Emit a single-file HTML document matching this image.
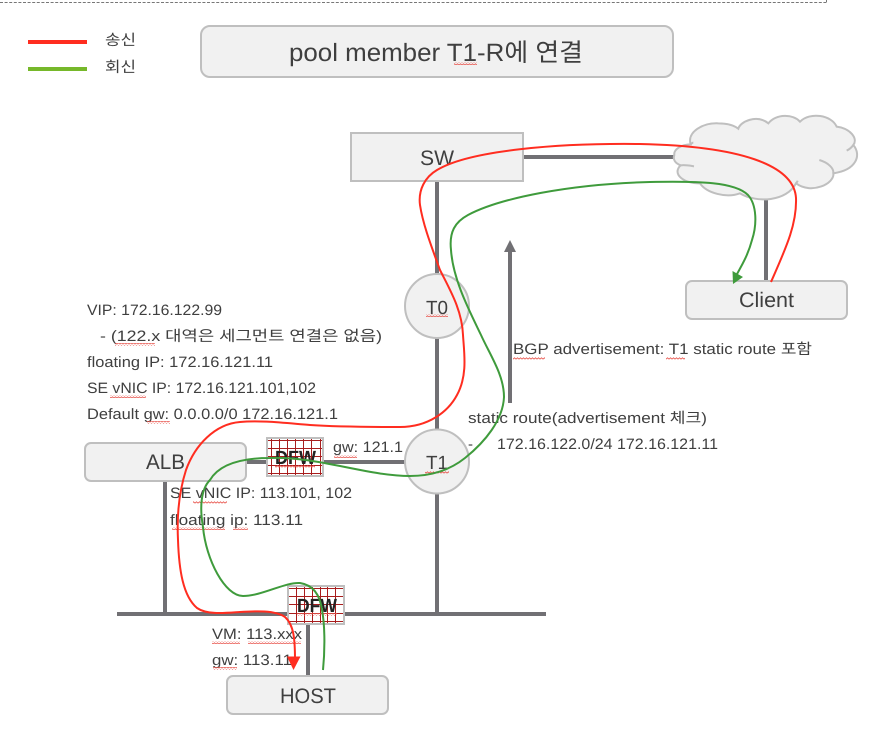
<!DOCTYPE html>
<html><head><meta charset="utf-8"><style>
html,body{margin:0;padding:0;background:#fff}
svg{display:block}
text{font-family:"Liberation Sans","Noto Sans CJK KR",sans-serif;fill:#3f3f3f;text-rendering:geometricPrecision}
.s{font-size:15px}
.b{font-size:21px}
.box{fill:#f1f1f1;stroke:#bfbfbf;stroke-width:2}
.ln{stroke:#717074;stroke-width:4;fill:none}
.g{stroke:#a81c1c;stroke-width:1;fill:none}
.w{fill:url(#sq)}
</style></head><body>
<svg width="879" height="738" viewBox="0 0 879 738" xmlns="http://www.w3.org/2000/svg">
<defs>
<pattern id="sq" width="3" height="3" patternUnits="userSpaceOnUse"><path d="M0 2.2L1.5 .8L3 2.2" fill="none" stroke="#e8524a" stroke-width=".8"/></pattern>
</defs>
<path d="M0 2.5H826" stroke="#777" stroke-width="1" stroke-dasharray="3 1.6"/>
<path d="M826.5 0V2.5" stroke="#777" stroke-width="1"/>

<rect x="28" y="40" width="59" height="4" fill="#ff2d20"/>
<rect x="28" y="67" width="59" height="4" fill="#76b82a"/>
<text class="s" x="105" y="45" textLength="31" lengthAdjust="spacingAndGlyphs">송신</text>
<text class="s" x="105" y="72" textLength="31" lengthAdjust="spacingAndGlyphs">회신</text>

<rect class="box" x="201" y="26" width="472" height="51" rx="9"/>
<text x="289" y="61" font-size="25" textLength="294" lengthAdjust="spacingAndGlyphs">pool member T1-R에 연결</text>
<rect class="w" x="454" y="62" width="23" height="3"/>

<!-- connectors -->
<path class="ln" d="M437 181V275M437 338V430M437 493V614M523 157H680M766 197V281M246 462H405M165 481V614M117 614H546M308 624V676"/>
<path class="ln" d="M510 403V250"/>
<path d="M510 240L516 252H504Z" fill="#717074"/>

<!-- cloud -->
<g transform="translate(440,100) scale(.33333)">
<path d="M703 165C700 148 725 133 752 133C740 95 790 68 835 70C860 70 882 76 895 86C900 65 950 42 985 70C1010 40 1060 42 1080 65C1110 35 1175 45 1190 80C1230 85 1255 115 1240 135C1265 165 1250 210 1180 220C1185 250 1115 285 1068 250C1040 305 950 310 900 280C860 295 800 280 780 250C730 250 695 222 722 196C705 190 698 178 703 165Z" fill="#f1f1f1" stroke="#bfbfbf" stroke-width="6"/>
<path d="M752 133C755 130 757 128 760 128M722 196C735 194 750 197 762 199M1138 180C1165 188 1182 205 1180 220M1240 135C1235 142 1228 148 1220 152M1068 250C1070 248 1072 245 1073 242" fill="none" stroke="#bfbfbf" stroke-width="6"/>
</g>

<rect class="box" x="351" y="133" width="172" height="48"/>
<text class="b" x="420" y="165" textLength="34" lengthAdjust="spacingAndGlyphs">SW</text>

<rect class="box" x="686" y="281" width="161" height="38" rx="6"/>
<text class="b" x="739" y="307" textLength="55" lengthAdjust="spacingAndGlyphs">Client</text>

<circle class="box" cx="437" cy="306" r="32"/>
<text x="426" y="314" font-size="19" textLength="22" lengthAdjust="spacingAndGlyphs">T0</text>
<rect class="w" x="426" y="314" width="22" height="3"/>

<circle class="box" cx="437" cy="461.5" r="32"/>
<text x="426" y="469" font-size="19" textLength="22" lengthAdjust="spacingAndGlyphs">T1</text>
<rect class="w" x="425" y="471" width="24" height="3"/>

<rect class="box" x="85" y="443" width="161" height="38" rx="6"/>
<text class="b" x="146" y="469" textLength="39" lengthAdjust="spacingAndGlyphs">ALB</text>

<rect class="box" x="227" y="676" width="161" height="38" rx="6"/>
<text class="b" x="280" y="703" textLength="56" lengthAdjust="spacingAndGlyphs">HOST</text>

<!-- DFW 1 -->
<rect x="267" y="438" width="56" height="38" fill="#fff" stroke="#bfbfbf" stroke-width="2"/>
<path class="g" d="M271.5 439V475M279.5 439V475M287.5 439V475M295.5 439V475M303.5 439V475M311.5 439V475M320.5 439V475M268 440.5H322M268 448.5H322M268 456.5H322M268 465.5H322M268 473.5H322"/>
<text x="275" y="464" font-size="19" style="fill:#222;font-weight:bold" textLength="41" lengthAdjust="spacingAndGlyphs">DFW</text>
<rect class="w" x="275" y="465" width="40" height="3"/>

<!-- DFW 2 -->
<rect x="288" y="586" width="56" height="38" fill="#fff" stroke="#bfbfbf" stroke-width="2"/>
<path class="g" d="M296.5 587V623M304.5 587V623M312.5 587V623M320.5 587V623M327.5 587V623M335.5 587V623M289 588.5H343M289 596.5H343M289 604.5H343M289 613.5H343M289 621.5H343"/>
<text x="297" y="612" font-size="19" style="fill:#222;font-weight:bold" textLength="40" lengthAdjust="spacingAndGlyphs">DFW</text>
<rect class="w" x="297" y="613" width="40" height="3"/>

<!-- labels -->
<g class="s">
<text x="87" y="315" class="s" textLength="135" lengthAdjust="spacingAndGlyphs">VIP: 172.16.122.99</text>
<text x="100" y="341" class="s" textLength="282" lengthAdjust="spacingAndGlyphs">- (122.x 대역은 세그먼트 연결은 없음)</text>
<text x="87" y="367" class="s" textLength="186" lengthAdjust="spacingAndGlyphs">floating IP: 172.16.121.11</text>
<text x="87" y="393" class="s" textLength="229" lengthAdjust="spacingAndGlyphs">SE vNIC IP: 172.16.121.101,102</text>
<text x="87" y="419" class="s" textLength="251" lengthAdjust="spacingAndGlyphs">Default gw: 0.0.0.0/0 172.16.121.1</text>
<text x="333" y="452" class="s" textLength="70" lengthAdjust="spacingAndGlyphs">gw: 121.1</text>
<text x="170" y="498" class="s" textLength="182" lengthAdjust="spacingAndGlyphs">SE vNIC IP: 113.101, 102</text>
<text x="170" y="525" class="s" textLength="133" lengthAdjust="spacingAndGlyphs">floating ip: 113.11</text>
<text x="212" y="639" class="s" textLength="90" lengthAdjust="spacingAndGlyphs">VM: 113.xxx</text>
<text x="212" y="665" class="s" textLength="80" lengthAdjust="spacingAndGlyphs">gw: 113.11</text>
<text x="513" y="354" class="s" textLength="299" lengthAdjust="spacingAndGlyphs">BGP advertisement: T1 static route 포함</text>
<text x="468" y="423" class="s" textLength="239" lengthAdjust="spacingAndGlyphs">static route(advertisement 체크)</text>
<text x="468" y="449" class="s">-</text>
<text x="497" y="449" class="s" textLength="221" lengthAdjust="spacingAndGlyphs">172.16.122.0/24 172.16.121.11</text>
</g>
<g>
<rect class="w" x="115" y="343" width="40" height="3"/>
<rect class="w" x="110" y="395" width="36" height="3"/>
<rect class="w" x="147" y="421" width="23" height="3"/>
<rect class="w" x="334" y="455" width="23" height="3"/>
<rect class="w" x="193" y="501" width="34" height="3"/>
<rect class="w" x="172" y="527" width="53" height="3"/>
<rect class="w" x="233" y="527" width="15" height="3"/>
<rect class="w" x="212" y="641" width="28" height="3"/>
<rect class="w" x="248" y="641" width="53" height="3"/>
<rect class="w" x="213" y="667" width="24" height="3"/>
<rect class="w" x="513" y="357" width="32" height="3"/>
<rect class="w" x="666" y="357" width="19" height="3"/>
</g>

<!-- red path -->
<path fill="none" stroke="#ff2d20" stroke-width="2" d="M771 282C785 250 797 225 796 198C794 165 740 146 640 144C560 143 470 150 437 170C425 177 418 190 420 205C423 225 432 248 440 270C450 290 462 310 463 335C464 352 468 375 457 395C448 412 428 427 400 427C370 427 340 427 310 425C285 423 260 420 240 422C215 424 195 445 186 470C178 495 177 520 178 540C179 570 183 596 197 608C207 615 225 613 240 612C255 611 275 610 285 617C294 625 295 640 295 660"/>
<path d="M293.5 670L287 656.5H300.5Z" fill="#ff2d20"/>

<!-- green path -->
<path fill="none" stroke="#3f9b3c" stroke-width="2" d="M323 670C325 650 325 625 322 610C320 595 313 585 300 583C285 582 262 596 243 596C225 596 206 560 203 527C200 510 200 490 210 480C220 463 245 458 270 458C295 457 320 462 345 467C370 472 390 476 410 476C432 476 450 470 465 458C485 442 503 420 504 397C504 375 490 355 481 335C470 312 453 280 451 250C449 232 455 222 468 215C500 198 570 184 650 182C700 181 735 182 748 195C757 205 757 225 752 240C748 255 742 265 737 274"/>
<path d="M733 284L732.5 271L743 277Z" fill="#3f9b3c"/>
</svg>
</body></html>
